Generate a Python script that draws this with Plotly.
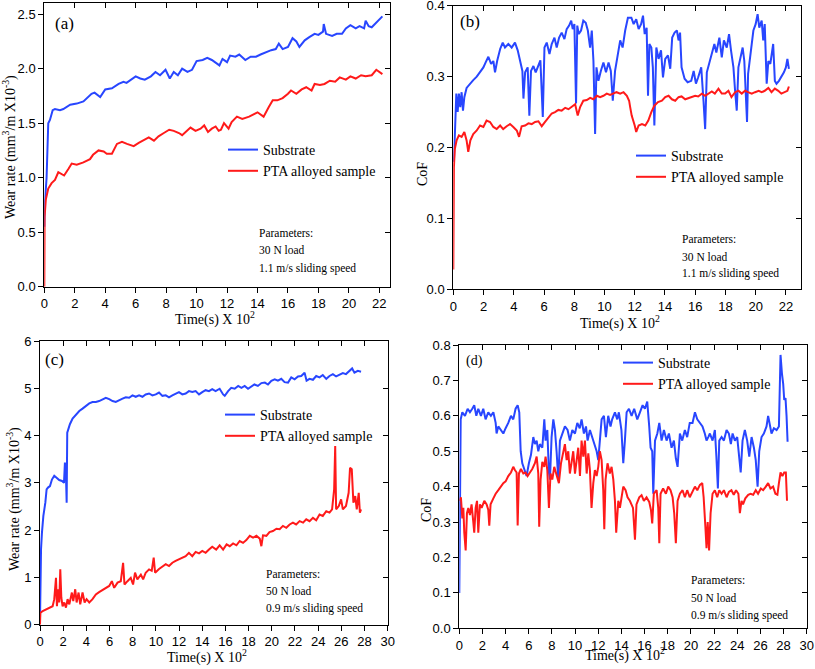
import plotly.graph_objects as go

W, H = 815, 669
SERIF = "Liberation Serif, Times New Roman, serif"
SANS = "Liberation Sans, Arial, sans-serif"
BLUE = "#2846FF"
RED = "#FF1A1A"

# ---------------- data (time in s x 10^2, value) ----------------
a_substrate = [(0,0.55),(0.02,0.73),(0.15,1.0),(0.26,1.5),(0.37,1.53),(0.55,1.62),(0.7,1.63),(1.03,1.62),(1.25,1.63),(1.7,1.67),(2.13,1.68),(2.57,1.70),(3.1,1.77),(3.3,1.78),(3.67,1.74),(4.0,1.81),(4.44,1.82),(4.88,1.86),(5.2,1.88),(5.4,1.87),(6.0,1.93),(6.3,1.91),(6.6,1.90),(7.0,1.93),(7.3,1.97),(7.6,1.94),(7.96,1.99),(8.24,1.91),(8.5,1.97),(8.77,1.94),(9.05,2.0),(9.4,1.97),(9.7,1.99),(10.0,2.07),(10.4,2.08),(10.7,2.10),(11.0,2.08),(11.2,2.06),(11.36,2.05),(11.5,2.03),(11.7,2.09),(12.0,2.06),(12.2,2.12),(12.55,2.11),(12.8,2.13),(13.2,2.08),(13.55,2.11),(13.9,2.11),(14.2,2.13),(14.5,2.15),(14.9,2.17),(15.2,2.18),(15.4,2.23),(15.65,2.18),(16.0,2.20),(16.3,2.28),(16.55,2.25),(16.75,2.20),(17.1,2.26),(17.4,2.29),(17.75,2.32),(18.0,2.31),(18.3,2.34),(18.35,2.41),(18.5,2.32),(18.9,2.30),(19.2,2.32),(19.55,2.32),(19.8,2.37),(20.1,2.40),(20.45,2.37),(20.7,2.39),(21.0,2.37),(21.1,2.44),(21.3,2.39),(21.5,2.38),(21.7,2.41),(21.95,2.45),(22.2,2.48)]
a_pta = [(0,0),(0.02,0.64),(0.1,0.8),(0.26,0.9),(0.48,0.95),(0.7,0.98),(0.92,1.05),(1.14,1.03),(1.3,1.02),(1.58,1.08),(1.8,1.13),(2.13,1.12),(2.57,1.14),(3.0,1.17),(3.2,1.21),(3.56,1.25),(3.9,1.24),(4.1,1.22),(4.44,1.22),(4.77,1.31),(5.1,1.33),(5.43,1.31),(5.87,1.29),(6.2,1.32),(6.5,1.34),(6.86,1.37),(7.2,1.34),(7.5,1.38),(7.85,1.41),(8.2,1.44),(8.5,1.43),(8.84,1.41),(9.05,1.39),(9.4,1.44),(9.6,1.46),(9.93,1.43),(10.26,1.45),(10.5,1.48),(10.75,1.42),(11.0,1.45),(11.25,1.47),(11.45,1.43),(11.6,1.44),(11.8,1.50),(12.1,1.45),(12.3,1.51),(12.65,1.56),(13.0,1.54),(13.45,1.56),(14.0,1.60),(14.4,1.56),(14.75,1.65),(15.0,1.71),(15.3,1.71),(15.65,1.73),(16.0,1.77),(16.2,1.80),(16.55,1.77),(16.9,1.81),(17.2,1.83),(17.55,1.80),(17.75,1.86),(18.1,1.85),(18.4,1.86),(18.75,1.89),(19.1,1.88),(19.4,1.92),(19.8,1.90),(20.1,1.93),(20.45,1.91),(20.8,1.94),(21.1,1.93),(21.5,1.94),(21.8,1.99),(22.0,1.97),(22.2,1.95)]

b_substrate = [(0.04,0.18),(0.1,0.224),(0.2,0.276),(0.29,0.25),(0.37,0.276),(0.46,0.257),(0.55,0.278),(0.64,0.252),(0.73,0.271),(0.88,0.284),(1.1,0.29),(1.32,0.295),(1.55,0.30),(1.77,0.306),(1.99,0.313),(2.14,0.32),(2.32,0.328),(2.5,0.318),(2.65,0.322),(2.76,0.306),(2.9,0.322),(3.1,0.339),(3.27,0.348),(3.42,0.341),(3.64,0.346),(3.86,0.341),(4.08,0.348),(4.26,0.337),(4.42,0.32),(4.57,0.308),(4.64,0.269),(4.75,0.306),(4.92,0.313),(5.03,0.245),(5.14,0.308),(5.3,0.315),(5.45,0.306),(5.63,0.315),(5.76,0.323),(5.92,0.243),(6.03,0.341),(6.18,0.348),(6.36,0.332),(6.51,0.346),(6.69,0.355),(6.84,0.341),(7.0,0.355),(7.17,0.362),(7.35,0.353),(7.5,0.367),(7.66,0.372),(7.8,0.379),(7.9,0.367),(8.01,0.374),(8.12,0.262),(8.2,0.372),(8.3,0.36),(8.45,0.365),(8.6,0.379),(8.76,0.376),(8.9,0.365),(9.05,0.341),(9.16,0.365),(9.27,0.322),(9.38,0.219),(9.47,0.313),(9.6,0.294),(9.76,0.308),(9.93,0.32),(10.1,0.306),(10.27,0.32),(10.42,0.308),(10.55,0.266),(10.7,0.308),(10.9,0.332),(11.04,0.351),(11.2,0.341),(11.37,0.365),(11.55,0.383),(11.78,0.383),(11.93,0.374),(12.1,0.381),(12.26,0.367),(12.42,0.374),(12.55,0.386),(12.66,0.36),(12.79,0.369),(12.88,0.273),(12.97,0.346),(13.1,0.341),(13.2,0.313),(13.3,0.231),(13.43,0.341),(13.58,0.325),(13.74,0.337),(13.87,0.299),(14.02,0.325),(14.2,0.33),(14.35,0.311),(14.48,0.355),(14.64,0.362),(14.79,0.365),(14.9,0.351),(15.0,0.362),(15.1,0.313),(15.3,0.297),(15.5,0.292),(15.74,0.294),(15.9,0.308),(16.05,0.29),(16.2,0.299),(16.4,0.313),(16.55,0.266),(16.66,0.226),(16.77,0.306),(16.95,0.322),(17.1,0.332),(17.27,0.346),(17.4,0.334),(17.6,0.355),(17.76,0.327),(17.9,0.351),(18.09,0.341),(18.24,0.36),(18.37,0.337),(18.53,0.313),(18.64,0.28),(18.75,0.252),(18.86,0.313),(19.0,0.325),(19.14,0.341),(19.25,0.322),(19.34,0.285),(19.43,0.236),(19.5,0.304),(19.7,0.341),(19.85,0.365),(20.0,0.374),(20.13,0.388),(20.24,0.369),(20.4,0.379),(20.5,0.351),(20.6,0.374),(20.73,0.29),(20.84,0.322),(20.97,0.318),(21.05,0.332),(21.16,0.346),(21.27,0.294),(21.38,0.29),(21.54,0.294),(21.7,0.299),(21.87,0.306),(22.0,0.313),(22.1,0.325),(22.2,0.311)]
b_pta = [(0,0.028),(0.04,0.172),(0.1,0.198),(0.22,0.21),(0.37,0.217),(0.55,0.215),(0.73,0.222),(0.88,0.21),(0.99,0.194),(1.13,0.21),(1.32,0.219),(1.55,0.224),(1.77,0.231),(1.99,0.229),(2.2,0.238),(2.43,0.236),(2.65,0.229),(2.87,0.226),(3.1,0.231),(3.3,0.226),(3.53,0.23),(3.75,0.233),(3.97,0.229),(4.2,0.224),(4.35,0.215),(4.52,0.23),(4.75,0.231),(4.97,0.234),(5.19,0.233),(5.41,0.236),(5.63,0.237),(5.85,0.23),(6.07,0.236),(6.3,0.243),(6.51,0.248),(6.73,0.25),(6.95,0.253),(7.17,0.252),(7.4,0.256),(7.62,0.254),(7.84,0.257),(8.06,0.261),(8.23,0.245),(8.39,0.257),(8.6,0.266),(8.83,0.267),(9.05,0.27),(9.27,0.268),(9.5,0.273),(9.71,0.271),(9.93,0.273),(10.15,0.276),(10.37,0.274),(10.6,0.276),(10.8,0.278),(11.04,0.276),(11.26,0.278),(11.48,0.273),(11.63,0.266),(11.7,0.257),(11.8,0.245),(12.0,0.231),(12.1,0.222),(12.26,0.231),(12.48,0.233),(12.7,0.231),(12.9,0.238),(13.1,0.25),(13.3,0.259),(13.54,0.264),(13.8,0.266),(14.02,0.271),(14.24,0.273),(14.46,0.268),(14.68,0.266),(14.9,0.271),(15.1,0.272),(15.34,0.268),(15.56,0.27),(15.78,0.271),(16.0,0.273),(16.2,0.272),(16.44,0.276),(16.66,0.273),(16.88,0.276),(17.1,0.279),(17.3,0.276),(17.54,0.283),(17.76,0.276),(17.98,0.276),(18.2,0.28),(18.4,0.271),(18.64,0.278),(18.86,0.28),(19.08,0.276),(19.3,0.28),(19.5,0.278),(19.74,0.276),(19.96,0.278),(20.2,0.28),(20.4,0.278),(20.6,0.28),(20.84,0.284),(21.05,0.278),(21.27,0.283),(21.5,0.28),(21.7,0.276),(21.93,0.279),(22.1,0.28),(22.2,0.286)]

c_substrate = [(0,0.1),(0.03,0.75),(0.09,1.6),(0.17,1.95),(0.29,2.3),(0.46,2.58),(0.57,2.86),(0.69,2.9),(0.86,2.93),(1.03,3.07),(1.23,3.15),(1.43,3.11),(1.66,3.06),(1.9,3.04),(2.07,3.0),(2.15,3.43),(2.24,3.15),(2.3,2.58),(2.35,4.06),(2.44,4.13),(2.58,4.24),(2.81,4.36),(3.1,4.45),(3.39,4.52),(3.67,4.57),(3.96,4.63),(4.25,4.68),(4.53,4.71),(4.82,4.71),(5.1,4.73),(5.39,4.77),(5.68,4.8),(5.97,4.77),(6.26,4.73),(6.54,4.71),(6.83,4.75),(7.12,4.78),(7.4,4.81),(7.69,4.8),(7.98,4.85),(8.26,4.82),(8.55,4.85),(8.84,4.82),(9.12,4.87),(9.41,4.89),(9.7,4.85),(9.99,4.87),(10.27,4.91),(10.56,4.84),(10.85,4.85),(11.13,4.81),(11.42,4.85),(11.7,4.89),(11.99,4.92),(12.28,4.87),(12.57,4.89),(12.85,4.94),(13.14,4.92),(13.43,4.94),(13.72,4.87),(14.0,4.92),(14.29,4.96),(14.58,4.94),(14.86,4.98),(15.15,4.94),(15.5,4.99),(15.8,4.87),(15.94,4.84),(16.23,4.94),(16.5,5.01),(16.8,4.99),(17.1,5.05),(17.38,5.01),(17.66,5.05),(17.95,4.99),(18.24,5.04),(18.5,5.08),(18.8,5.05),(19.1,5.11),(19.4,5.12),(19.67,5.08),(19.96,5.16),(20.25,5.19),(20.53,5.16),(20.82,5.2),(21.1,5.13),(21.4,5.12),(21.68,5.23),(21.97,5.19),(22.26,5.25),(22.54,5.26),(22.83,5.33),(23.0,5.16),(23.26,5.2),(23.55,5.18),(23.83,5.26),(24.12,5.23),(24.4,5.28),(24.7,5.2),(24.98,5.26),(25.27,5.3),(25.55,5.25),(25.84,5.28),(26.13,5.32),(26.4,5.3),(26.7,5.37),(26.93,5.42),(27.13,5.33),(27.42,5.37),(27.7,5.35)]
c_pta = [(0,0.0),(0.03,0.25),(0.23,0.29),(0.52,0.32),(0.8,0.36),(1.09,0.39),(1.23,0.54),(1.38,0.99),(1.46,0.39),(1.58,0.75),(1.66,0.47),(1.75,1.17),(1.84,0.57),(1.95,0.39),(2.09,0.47),(2.24,0.36),(2.38,0.54),(2.53,0.43),(2.75,0.68),(2.87,0.5),(3.04,0.75),(3.16,0.47),(3.33,0.68),(3.47,0.43),(3.67,0.68),(3.85,0.47),(4.02,0.54),(4.25,0.47),(4.53,0.54),(4.82,0.64),(5.1,0.69),(5.39,0.73),(5.68,0.78),(5.97,0.82),(6.2,0.92),(6.4,0.78),(6.69,0.89),(6.97,0.92),(7.17,1.31),(7.29,0.85),(7.55,0.92),(7.83,0.99),(8.03,0.85),(8.2,1.1),(8.4,0.96),(8.7,1.06),(8.9,0.96),(9.12,1.1),(9.41,1.17),(9.64,1.14),(9.81,1.42),(9.93,1.1),(10.27,1.18),(10.56,1.24),(10.85,1.28),(11.13,1.24),(11.42,1.31),(11.7,1.35),(11.99,1.38),(12.28,1.42),(12.57,1.45),(12.85,1.52),(13.14,1.45),(13.43,1.54),(13.72,1.51),(14.0,1.56),(14.29,1.52),(14.58,1.59),(14.86,1.65),(15.2,1.59),(15.5,1.68),(15.8,1.59),(16.1,1.7),(16.37,1.66),(16.66,1.72),(16.95,1.68),(17.23,1.77),(17.52,1.73),(17.8,1.79),(18.1,1.88),(18.38,1.84),(18.67,1.88),(18.96,1.82),(19.1,1.66),(19.24,1.89),(19.53,1.88),(19.8,1.96),(20.1,1.98),(20.4,2.03),(20.68,2.02),(20.96,2.09),(21.25,2.05),(21.54,2.12),(21.82,2.16),(22.1,2.12),(22.4,2.19),(22.7,2.16),(22.97,2.23),(23.26,2.19),(23.55,2.26),(23.83,2.21),(24.12,2.33),(24.4,2.3),(24.7,2.4),(24.98,2.37),(25.2,2.44),(25.38,2.86),(25.47,3.78),(25.55,2.44),(25.78,2.51),(25.98,2.65),(26.13,2.44),(26.4,2.51),(26.63,2.79),(26.75,3.32),(26.9,3.29),(27.04,2.58),(27.2,2.72),(27.33,2.44),(27.5,2.79),(27.6,2.37),(27.7,2.44)]

d_substrate = [(0,0.1),(0.06,0.39),(0.12,0.59),(0.26,0.61),(0.49,0.6),(0.72,0.62),(0.92,0.61),(1.12,0.62),(1.29,0.63),(1.47,0.6),(1.64,0.62),(1.87,0.6),(2.07,0.62),(2.27,0.59),(2.5,0.61),(2.73,0.6),(2.94,0.61),(3.14,0.58),(3.22,0.55),(3.37,0.57),(3.6,0.56),(3.8,0.55),(4.0,0.565),(4.23,0.58),(4.46,0.6),(4.66,0.59),(4.86,0.62),(5.04,0.63),(5.18,0.61),(5.3,0.5),(5.44,0.466),(5.61,0.45),(5.81,0.43),(6.01,0.466),(6.19,0.49),(6.39,0.54),(6.53,0.52),(6.68,0.53),(6.82,0.5),(6.96,0.52),(7.17,0.51),(7.34,0.59),(7.45,0.53),(7.6,0.56),(7.74,0.44),(7.83,0.42),(7.97,0.54),(8.12,0.59),(8.26,0.56),(8.4,0.5),(8.55,0.42),(8.69,0.53),(8.89,0.55),(9.12,0.57),(9.35,0.56),(9.55,0.53),(9.76,0.56),(9.99,0.55),(10.19,0.58),(10.4,0.565),(10.56,0.59),(10.76,0.55),(10.94,0.57),(11.08,0.53),(11.28,0.56),(11.48,0.54),(11.65,0.52),(11.86,0.5),(12.0,0.475),(12.14,0.53),(12.29,0.59),(12.49,0.6),(12.66,0.54),(12.86,0.6),(13.06,0.57),(13.2,0.59),(13.44,0.61),(13.64,0.59),(13.78,0.61),(14.0,0.56),(14.16,0.466),(14.3,0.53),(14.45,0.61),(14.65,0.62),(14.88,0.6),(15.1,0.62),(15.37,0.59),(15.6,0.61),(15.83,0.63),(16.03,0.62),(16.23,0.64),(16.4,0.57),(16.52,0.51),(16.66,0.5),(16.75,0.38),(16.9,0.53),(17.1,0.55),(17.27,0.58),(17.47,0.53),(17.67,0.56),(17.9,0.53),(18.1,0.55),(18.33,0.51),(18.53,0.53),(18.7,0.48),(18.85,0.456),(19.05,0.55),(19.25,0.53),(19.48,0.56),(19.68,0.54),(19.9,0.58),(20.14,0.58),(20.35,0.61),(20.55,0.59),(20.78,0.58),(21.0,0.57),(21.2,0.55),(21.35,0.53),(21.5,0.54),(21.64,0.55),(21.87,0.53),(22.07,0.56),(22.2,0.485),(22.33,0.395),(22.45,0.53),(22.65,0.54),(22.85,0.53),(23.08,0.56),(23.28,0.55),(23.45,0.52),(23.6,0.55),(23.8,0.53),(24.0,0.54),(24.17,0.49),(24.3,0.44),(24.46,0.53),(24.66,0.56),(24.86,0.53),(25.04,0.485),(25.24,0.54),(25.44,0.51),(25.6,0.475),(25.76,0.4),(25.9,0.5),(26.1,0.54),(26.3,0.55),(26.53,0.57),(26.67,0.6),(26.82,0.57),(26.96,0.55),(27.17,0.565),(27.4,0.56),(27.6,0.57),(27.74,0.772),(27.86,0.72),(27.97,0.69),(28.06,0.645),(28.17,0.65),(28.26,0.6),(28.35,0.527)]
d_pta = [(0.06,0.36),(0.14,0.37),(0.26,0.31),(0.35,0.34),(0.43,0.27),(0.55,0.22),(0.66,0.325),(0.78,0.34),(0.92,0.32),(1.06,0.35),(1.21,0.30),(1.29,0.27),(1.41,0.34),(1.53,0.36),(1.64,0.27),(1.78,0.35),(1.93,0.34),(2.16,0.36),(2.36,0.35),(2.5,0.335),(2.59,0.29),(2.7,0.35),(2.94,0.367),(3.14,0.38),(3.37,0.39),(3.6,0.4),(3.8,0.41),(4.0,0.415),(4.23,0.43),(4.46,0.44),(4.66,0.456),(4.8,0.447),(4.95,0.44),(5.04,0.29),(5.15,0.437),(5.32,0.45),(5.53,0.437),(5.73,0.44),(5.9,0.43),(6.1,0.44),(6.3,0.45),(6.53,0.466),(6.68,0.485),(6.82,0.437),(6.9,0.287),(7.02,0.42),(7.17,0.47),(7.34,0.456),(7.45,0.485),(7.6,0.447),(7.74,0.34),(7.88,0.437),(8.03,0.42),(8.2,0.456),(8.4,0.43),(8.6,0.41),(8.78,0.466),(8.98,0.494),(9.12,0.52),(9.27,0.475),(9.41,0.5),(9.55,0.437),(9.7,0.466),(9.84,0.5),(9.99,0.437),(10.13,0.475),(10.27,0.51),(10.42,0.43),(10.56,0.53),(10.71,0.485),(10.85,0.53),(11.0,0.437),(11.14,0.494),(11.28,0.447),(11.42,0.34),(11.57,0.41),(11.71,0.447),(11.86,0.43),(12.0,0.456),(12.14,0.5),(12.29,0.475),(12.43,0.39),(12.52,0.28),(12.63,0.42),(12.8,0.466),(13.0,0.437),(13.15,0.456),(13.3,0.42),(13.44,0.36),(13.55,0.27),(13.73,0.36),(13.87,0.34),(14.0,0.37),(14.16,0.4),(14.36,0.39),(14.53,0.37),(14.73,0.36),(15.0,0.34),(15.17,0.25),(15.3,0.35),(15.54,0.37),(15.74,0.376),(15.94,0.36),(16.17,0.37),(16.4,0.357),(16.55,0.334),(16.66,0.296),(16.8,0.38),(17.04,0.39),(17.18,0.34),(17.27,0.24),(17.38,0.38),(17.6,0.395),(17.84,0.38),(18.04,0.4),(18.24,0.39),(18.42,0.37),(18.56,0.325),(18.7,0.24),(18.85,0.36),(19.05,0.38),(19.28,0.39),(19.48,0.37),(19.68,0.39),(19.9,0.37),(20.14,0.385),(20.35,0.4),(20.55,0.39),(20.78,0.405),(20.98,0.41),(21.1,0.37),(21.25,0.287),(21.35,0.226),(21.45,0.30),(21.57,0.22),(21.7,0.325),(21.87,0.38),(22.07,0.39),(22.27,0.37),(22.45,0.39),(22.65,0.38),(22.85,0.39),(23.08,0.37),(23.28,0.385),(23.5,0.39),(23.7,0.377),(23.9,0.39),(24.1,0.38),(24.23,0.325),(24.37,0.36),(24.5,0.35),(24.7,0.367),(24.95,0.377),(25.15,0.38),(25.38,0.377),(25.6,0.39),(25.8,0.38),(26.04,0.395),(26.24,0.39),(26.47,0.4),(26.67,0.41),(26.87,0.395),(27.1,0.4),(27.3,0.38),(27.47,0.377),(27.6,0.41),(27.74,0.44),(27.9,0.43),(28.06,0.44),(28.2,0.44),(28.3,0.36)]

series_names = ["Substrate", "PTA alloyed sample"]
x_title = "Time(s) X 10<sup>2</sup>"
wear_title = "Wear rate (mm<sup>3</sup>/m X10<sup>-3</sup>)"
cof_title = "CoF"
params = {"a": ["Parameters:", "30 N load", "1.1 m/s sliding speed"],
          "b": ["Parameters:", "30 N load", "1.1 m/s sliding speed"],
          "c": ["Parameters:", "50 N load", "0.9 m/s sliding speed"],
          "d": ["Parameters:", "50 N load", "0.9 m/s sliding speed"]}

# ---------------- layout geometry (pixels) ----------------
panels = [
    dict(key="a", xp=(44.3, 390), yp=(3.3, 286.7), xr=[0, 22.7], yr=[0, 2.6], yt=[0, 0.5, 1.0, 1.5, 2.0, 2.5], fmt=".1f", xt=list(range(0, 23, 2)),
         data=(a_substrate, a_pta)),
    dict(key="b", xp=(453.3, 801), yp=(5.7, 289.3), xr=[0, 23], yr=[0, 0.4], yt=[0, 0.1, 0.2, 0.3, 0.4], fmt=".1f", xt=list(range(0, 23, 2)),
         data=(b_substrate, b_pta)),
    dict(key="c", xp=(40, 387.7), yp=(341, 624.7), xr=[0, 30], yr=[0, 6], yt=[0, 1, 2, 3, 4, 5, 6], fmt="d", xt=list(range(0, 31, 2)),
         data=(c_substrate, c_pta)),
    dict(key="d", xp=(459.3, 806.7), yp=(345, 628.3), xr=[0, 30], yr=[0, 0.8], yt=[0, 0.1, 0.2, 0.3, 0.4, 0.5, 0.6, 0.7, 0.8], fmt=".1f", xt=list(range(0, 31, 2)),
         data=(d_substrate, d_pta)),
]

fig = go.Figure()
layout = dict(width=W, height=H, margin=dict(l=0, r=0, t=0, b=0, pad=0), autosize=False,
              paper_bgcolor="white", plot_bgcolor="white", showlegend=True)

common = dict(showgrid=False, zeroline=False, showline=True, linecolor="black", linewidth=1,
              tickcolor="black", tickwidth=1, ticklen=5, automargin=False)

legend_pos = {"a": (223, 134), "b": (631, 140), "c": (220, 399), "d": (618, 347)}
annotations = []

def ann(text, px, py, size, xanchor="center", yanchor="middle", angle=0, family=SERIF):
    return dict(text=text, x=px / W, y=1 - py / H, xref="paper", yref="paper", showarrow=False,
                xanchor=xanchor, yanchor=yanchor, textangle=angle,
                font=dict(family=family, size=size, color="black"))

for i, p in enumerate(panels):
    n = i + 1
    xid = "x" if n == 1 else f"x{n}"
    yid = "y" if n == 1 else f"y{n}"
    xo, yo = f"x{n+4}", f"y{n+4}"
    legname = "legend" if n == 1 else f"legend{n}"
    xdom = [p["xp"][0] / W, p["xp"][1] / W]
    ydom = [1 - p["yp"][1] / H, 1 - p["yp"][0] / H]
    layout[f"xaxis{'' if n == 1 else n}"] = dict(domain=xdom, range=p["xr"], anchor=yid, tickvals=p["xt"],
        ticks="outside", ticklabeloverflow="allow", tickfont=dict(family=SANS, size=13, color="black"), **common)
    layout[f"yaxis{'' if n == 1 else n}"] = dict(domain=ydom, range=p["yr"], anchor=xid, tickvals=p["yt"],
        tickformat=p["fmt"], ticks="outside", ticklabeloverflow="allow",
        tickfont=dict(family=SANS, size=13, color="black"), **common)
    layout[f"xaxis{n+4}"] = dict(overlaying=xid, side="top", range=p["xr"], anchor=yid, tickvals=p["xt"],
        ticks="inside", showticklabels=False, **common)
    layout[f"yaxis{n+4}"] = dict(overlaying=yid, side="right", range=p["yr"], anchor=xid, tickvals=p["yt"],
        ticks="inside", showticklabels=False, **common)
    fig.add_trace(go.Scatter(x=[None], y=[None], xaxis=xo, yaxis=yo, showlegend=False, hoverinfo="skip"))
    for name, series, color in zip(series_names, p["data"], (BLUE, RED)):
        fig.add_trace(go.Scatter(x=[t for t, _ in series], y=[v for _, v in series], mode="lines",
                                 name=name, line=dict(color=color, width=2), xaxis=xid, yaxis=yid,
                                 legend=legname))
    lx, ly = legend_pos[p["key"]]
    layout[legname] = dict(x=lx / W, y=1 - ly / H, xanchor="left", yanchor="top", bgcolor="rgba(0,0,0,0)",
                           borderwidth=0, font=dict(family=SERIF, size=14, color="black"),
                           tracegroupgap=0, itemwidth=30)

annotations += [
    ann(wear_title, 10, 147, 14, angle=-90), ann(x_title, 215, 318, 14),
    ann(cof_title, 423, 174, 14, angle=-90), ann(x_title, 620, 322, 14),
    ann(wear_title, 13, 499, 14, angle=-90), ann(x_title, 207, 656, 14),
    ann(cof_title, 426, 510, 14, angle=-90), ann(x_title, 625, 654, 14),
    ann("(a)", 53, 23, 17, xanchor="left"), ann("(b)", 458, 22, 17, xanchor="left"),
    ann("(c)", 43, 359, 17, xanchor="left"), ann("(d)", 464, 361, 14, xanchor="left"),
]
param_pos = {"a": (257, [233, 250, 268]), "b": (680, [239, 257, 274]),
             "c": (264, [574, 591, 608]), "d": (689, [580, 598, 615])}
for k, (px, ys) in param_pos.items():
    for line, py in zip(params[k], ys):
        annotations.append(ann(line, px, py, 11.5, xanchor="left"))

layout["annotations"] = annotations
fig.update_layout(**layout)
fig.write_html("out.html", config={"displayModeBar": False, "staticPlot": True},
               post_script="document.body.style.margin='0px';document.body.style.overflow='hidden';")
